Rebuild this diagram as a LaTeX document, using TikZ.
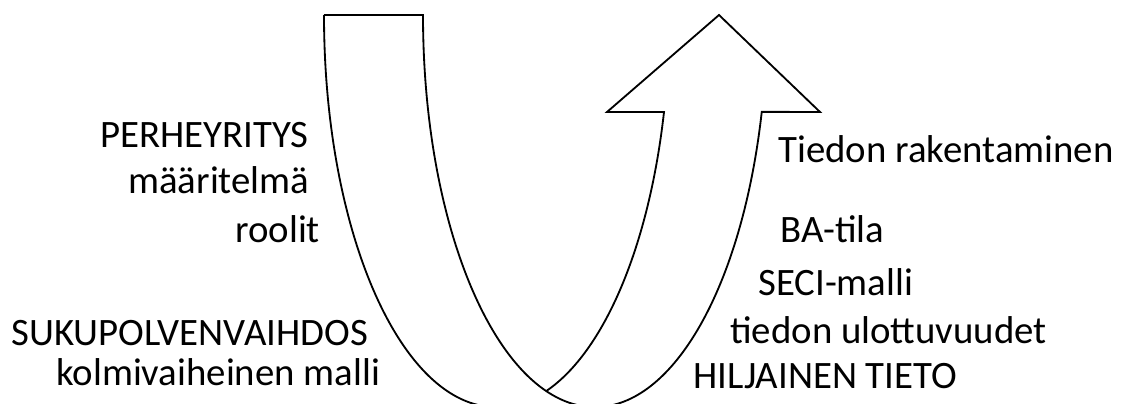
\documentclass[tikz,border=0pt]{standalone}
\usepackage{fontspec}
\setmainfont{Carlito}
\tikzset{
  teksti/.style={anchor=base west, inner sep=0pt, font=\fontsize{27.6}{33}\selectfont},
  kaari/.style={draw=black, line width=1.3pt, line join=miter},
}

\begin{document}
\begin{tikzpicture}[x=0.025cm, y=0.025cm]
\useasboundingbox (0,0) rectangle (1125,403);
\clip (0,0) rectangle (1125,403);
% the band and its arrow head
\coordinate (vy) at (324,388);
\coordinate (oy) at (423,388);
\coordinate (kv) at (607,291);
\coordinate (kk) at (719,388);
\coordinate (ko) at (820,291);
\coordinate (ks) at (664,291);
\draw[kaari] (vy) arc[start angle=180, end angle=270, x radius=4.3cm, y radius=9.8cm];
\draw[kaari] (vy) -- (oy) arc[start angle=180, end angle=345.7, x radius=4.3cm, y radius=9.8cm]
  -- (ko) -- (kk) -- (kv) -- (ks) arc[start angle=345.7, end angle=286.7, x radius=4.3cm, y radius=9.8cm];
% left texts
\node[teksti] (perhe) at (100,256) {PERHEYRITYS};
\node[teksti] (maar) at (128,210) {määritelmä};
\node[teksti] (roolit) at (235,161) {roolit};
\node[teksti] (suku) at (11,58) {SUKUPOLVENVAIHDOS};
\node[teksti] (kolmi) at (56,18) {kolmivaiheinen malli};
% right texts
\node[teksti] (raken) at (778,241) {Tiedon rakentaminen};
\node[teksti] (ba) at (780,161) {BA-tila};
\node[teksti] (seci) at (758,108) {SECI-malli};
\node[teksti] (ulott) at (730,60) {tiedon ulottuvuudet};
\node[teksti] (hilj) at (693,15) {HILJAINEN TIETO};
\end{tikzpicture}
\end{document}
